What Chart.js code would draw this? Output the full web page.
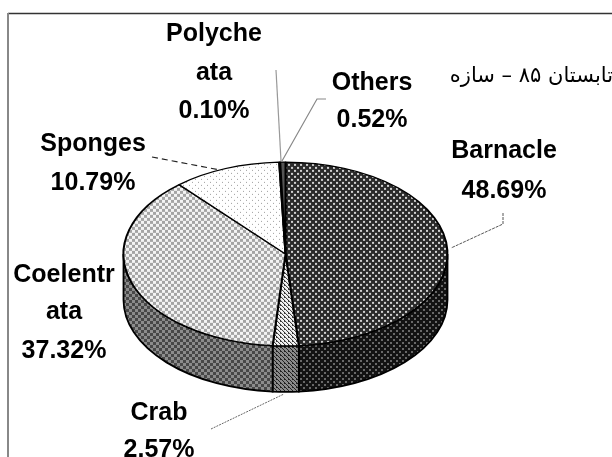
<!DOCTYPE html>
<html><head><meta charset="utf-8">
<style>html,body{margin:0;padding:0;background:#fff;overflow:hidden}canvas{display:block}</style>
<script src="https://cdn.jsdelivr.net/npm/chart.js@4"></script>
</head><body><div style="width:612px;height:457px"><canvas id="c" width="612" height="457"></canvas></div>
<script>
const categories = ['Barnacle','Crab','Coelentrata','Sponges','Polychaeta','Others'];
const values = [48.69,2.57,37.32,10.79,0.10,0.52];
const labelLines = [['Barnacle'],['Crab'],['Coelentr','ata'],['Sponges'],['Polyche','ata'],['Others']];
const title = 'تابستان ۸۵ – سازه';
const TILT = 0.5675, DEPTH = 46;
const topStyles = [['#2a2a2a','#d0d0d0','dots'],['#2a2a2a','#f4f4f4','stripes'],['#a4a4a4','#f4f4f4','check'],['#ffffff','#a0a0a0','sparse'],['#888888','#888888','dots'],['#555555','#555555','dots']];
const sideStyles = [['#121212','#686868','dots'],['#222222','#8a8a8a','stripes'],['#484848','#8c8c8c','check'],['#777777','#aaaaaa','sparse'],['#444444','#444444','dots'],['#333333','#333333','dots']];
// label anchors: centre x and text baselines
const labelPos = [[504,[158,198]],[159,[420,457]],[64,[282,319,358]],[93,[151,190]],[214,[41,80,118]],[372,[90,127]]];
const leaders = [
 {pts:[[503,213],[503,224],[451,248]],color:'#555',dash:[3,1],w:1},
 {pts:[[211,429],[284,394]],color:'#666',dash:[2,1],w:1},
 {pts:[[152,157],[220,170]],color:'#222',dash:[6,4],w:1.2},
 {pts:[[276,70],[281,161]],color:'#999',dash:[],w:1.2},
 {pts:[[326,99],[317,99],[282,161]],color:'#888',dash:[],w:1.2}
];
function pattern(ctx,[bg,fg,kind],undo){
  const n=kind==='stripes'?4:6;
  const t=document.createElement('canvas');t.width=t.height=n;const g=t.getContext('2d');
  g.fillStyle=bg;g.fillRect(0,0,n,n);g.fillStyle=fg;
  if(kind==='dots'){g.fillRect(0,0,2,2);g.fillRect(3,3,2,2);}
  if(kind==='check'){g.fillRect(0,0,3,3);g.fillRect(3,3,3,3);}
  if(kind==='sparse'){g.fillRect(0,0,1,1);g.fillRect(3,3,1,1);}
  if(kind==='stripes'){for(let i=0;i<4;i++){g.fillRect(i,i,2,1);g.fillRect((i+3)%4,i,1,1);}}
  const p=ctx.createPattern(t,'repeat');
  if(undo)p.setTransform(new DOMMatrix().scale(1,1/TILT));
  return p;
}
const cv=document.getElementById('c'),cx0=cv.getContext('2d');
const topFills=topStyles.map(s=>pattern(cx0,s,true));
const sideFills=sideStyles.map(s=>pattern(cx0,s,false));
const tilt3d={
  id:'tilt3d',
  beforeDatasetsDraw(chart){
    const ctx=chart.ctx,els=chart.getDatasetMeta(0).data;
    ctx.save();
    els.forEach((el,i)=>{
      const a0=Math.max(el.startAngle,0),a1=Math.min(el.endAngle,Math.PI);
      if(a1<=a0)return;
      const r=el.outerRadius,ry=r*TILT;
      ctx.beginPath();
      ctx.ellipse(el.x,el.y,r,ry,0,a0,a1);
      ctx.ellipse(el.x,el.y+DEPTH,r,ry,0,a1,a0,true);
      ctx.closePath();
      ctx.fillStyle=sideFills[i];ctx.fill();
      ctx.strokeStyle='#000';ctx.lineWidth=1.8;ctx.stroke();
    });
    ctx.restore();
    const el=els[0];
    ctx.save();
    ctx.translate(el.x,el.y);ctx.scale(1,TILT);ctx.translate(-el.x,-el.y);
  },
  afterDatasetsDraw(chart){chart.ctx.restore();},
  afterDraw(chart){
    const ctx=chart.ctx;
    ctx.save();
    // frame
    ctx.strokeStyle='#333';ctx.lineWidth=1.5;
    ctx.beginPath();ctx.moveTo(612,13.5);ctx.lineTo(8,13.5);ctx.stroke();
    ctx.strokeStyle='#888';ctx.lineWidth=2;
    ctx.beginPath();ctx.moveTo(8,13);ctx.lineTo(8,457);ctx.stroke();
    leaders.forEach(l=>{
      ctx.beginPath();ctx.strokeStyle=l.color;ctx.lineWidth=l.w;ctx.setLineDash(l.dash);
      l.pts.forEach((p,i)=>i?ctx.lineTo(p[0],p[1]):ctx.moveTo(p[0],p[1]));ctx.stroke();
    });
    ctx.setLineDash([]);
    ctx.fillStyle='#000';ctx.textAlign='center';ctx.textBaseline='alphabetic';
    ctx.font='bold 25px "Liberation Sans"';
    categories.forEach((c,i)=>{
      const [x,ys]=labelPos[i];
      const lines=[...labelLines[i],values[i].toFixed(2)+'%'];
      lines.forEach((t,j)=>ctx.fillText(t,x,ys[j]));
    });
    ctx.font='21px "DejaVu Sans"';ctx.direction='rtl';ctx.textAlign='right';
    ctx.fillText(title,613,82);
    ctx.restore();
  }
};
new Chart(cv,{
  type:'pie',
  data:{labels:categories,datasets:[{data:values,backgroundColor:topFills,borderColor:'#000',borderWidth:2}]},
  options:{responsive:false,animation:false,
    layout:{padding:{left:122.5,right:163.5,top:91,bottom:40}},
    plugins:{legend:{display:false},tooltip:{enabled:false}}},
  plugins:[tilt3d]
});
</script></body></html>
